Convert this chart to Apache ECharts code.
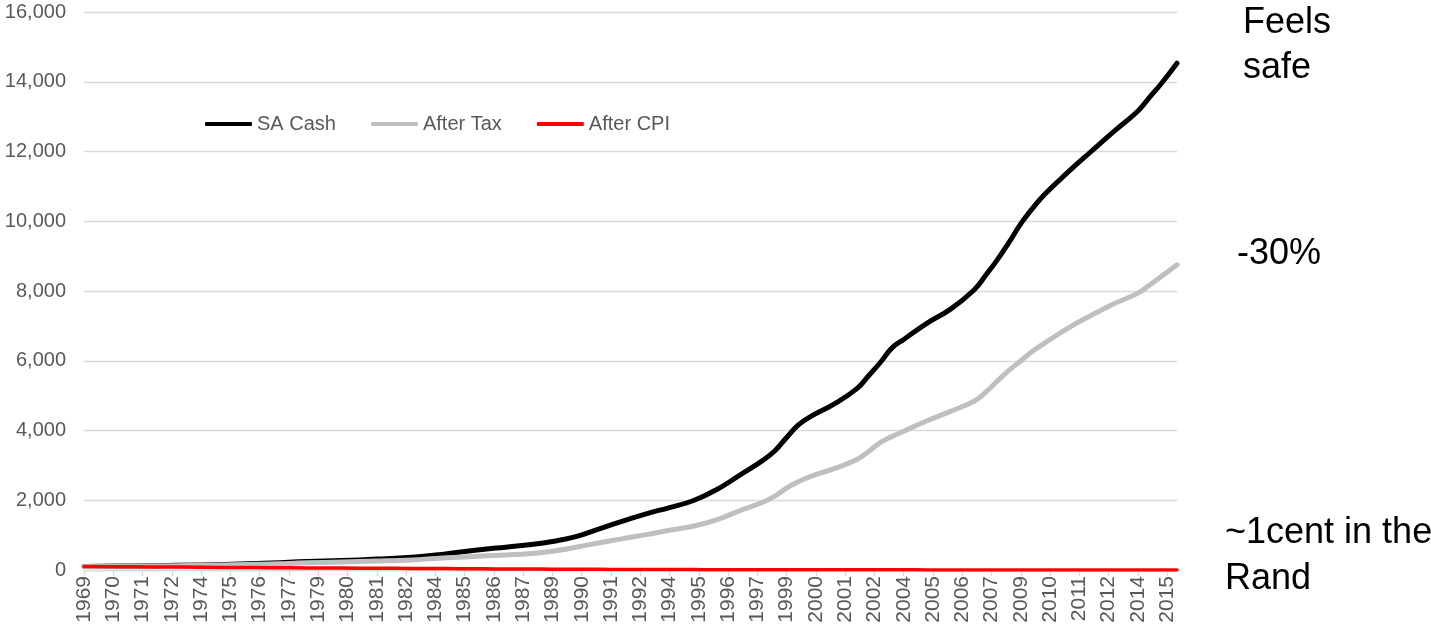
<!DOCTYPE html>
<html>
<head>
<meta charset="utf-8">
<script src="https://cdn.jsdelivr.net/npm/echarts@6/dist/echarts.min.js"></script>
<style>
  html, body { margin: 0; padding: 0; background: #ffffff; }
  #chart { width: 1431px; height: 631px; }
</style>
</head>
<body>
<div id="chart"></div>
<script>
// Sample months (year-month) at which each series is recorded
const months = [
  '1969-01', '1971-01', '1973-01', '1975-01', '1977-01', '1978-07', '1980-01', '1981-07',
  '1983-01', '1984-01', '1985-01', '1986-01', '1987-01', '1988-01', '1989-01', '1990-01',
  '1991-01', '1992-01', '1993-01', '1994-01', '1995-01', '1996-01', '1997-01', '1998-01',
  '1998-07', '1999-01', '1999-07', '2000-01', '2001-01', '2002-01', '2002-07', '2003-01',
  '2003-07', '2004-01', '2005-01', '2006-01', '2007-01', '2007-07', '2008-01', '2008-07',
  '2009-01', '2009-07', '2010-01', '2011-01', '2012-01', '2013-01', '2014-01', '2014-07',
  '2015-01', '2015-09'
];

// Growth of 100 invested in SA cash
const saCash = [
  100, 115, 135, 160, 200, 245, 272, 312,
  365, 428, 510, 590, 655, 722, 815, 955,
  1180, 1400, 1610, 1790, 1985, 2300, 2720, 3150,
  3420, 3800, 4160, 4390, 4750, 5200, 5570, 5950,
  6370, 6610, 7080, 7480, 8030, 8450, 8900, 9400,
  9930, 10370, 10760, 11400, 12000, 12590, 13160, 13560,
  13950, 14530
];

// Same investment after tax
const afterTax = [
  100, 110, 125, 145, 172, 205, 228, 255,
  290, 330, 365, 400, 432, 468, 540, 650,
  780, 900, 1015, 1140, 1255, 1440, 1700, 1950,
  2120, 2350, 2530, 2680, 2900, 3170, 3400, 3650,
  3830, 3980, 4280, 4550, 4840, 5100, 5420, 5730,
  6000, 6270, 6500, 6930, 7300, 7640, 7940, 8170,
  8420, 8750
];

// After tax, deflated by CPI
const afterCpi = [
  100, 92, 85, 75, 65, 60, 55, 50,
  45, 42, 38, 34, 30, 27, 24, 21,
  18, 16, 14, 12, 11, 10, 9, 8,
  7.5, 7, 6.5, 6, 5.5, 5, 4.7, 4.4,
  4.1, 3.8, 3.4, 3.0, 2.7, 2.5, 2.3, 2.1,
  1.9, 1.8, 1.7, 1.5, 1.4, 1.3, 1.2, 1.1,
  1.05, 1
];

// Category labels shown along the time axis (one every 15 months from Jan 1969)
const tickLabels = [
  '1969', '1970', '1971', '1972', '1974', '1975', '1976', '1977', '1979', '1980',
  '1981', '1982', '1984', '1985', '1986', '1987', '1989', '1990', '1991', '1992',
  '1994', '1995', '1996', '1997', '1999', '2000', '2001', '2002', '2004', '2005',
  '2006', '2007', '2009', '2010', '2011', '2012', '2014', '2015'
];

const seriesNames = ['SA Cash', 'After Tax', 'After CPI'];

const toYear = m => Number(m.slice(0, 4)) + (Number(m.slice(5, 7)) - 1) / 12;
const xs = months.map(toYear);
const startYear = xs[0];
const labelStep = 15 / 12;
const tickPositions = tickLabels.map((_, i) => startYear + i * labelStep);
const pairs = vals => xs.map((x, i) => [x, vals[i]]);

const FONT = "'Liberation Sans', Arial, Helvetica, sans-serif";
const chart = echarts.init(document.getElementById('chart'), null, { renderer: 'canvas' });

const lineSeries = (name, vals, color, width, z) => ({
  name,
  type: 'line',
  data: pairs(vals),
  showSymbol: false,
  symbol: 'none',
  smooth: 0.45,
  z,
  itemStyle: { color },
  lineStyle: { color, width, cap: 'round', join: 'round' },
  emphasis: { disabled: true }
});

chart.setOption({
  animation: false,
  backgroundColor: '#ffffff',
  textStyle: { fontFamily: FONT },
  grid: { left: 84, right: 254, top: 12, bottom: 61, containLabel: false },
  legend: {
    data: seriesNames,
    left: 200,
    top: 109,
    icon: 'roundRect',
    itemWidth: 47,
    itemHeight: 4,
    itemGap: 35,
    selectedMode: false,
    textStyle: { fontFamily: FONT, fontSize: 20, color: '#595959' }
  },
  xAxis: {
    type: 'value',
    min: startYear,
    max: xs[xs.length - 1],
    axisLine: { show: true, lineStyle: { color: '#D9D9D9', width: 1.3 } },
    axisTick: {
      show: true,
      customValues: tickPositions,
      length: 6,
      lineStyle: { color: '#D9D9D9', width: 1.3 }
    },
    axisLabel: {
      customValues: tickPositions,
      rotate: 90,
      margin: 6,
      fontFamily: FONT,
      fontSize: 21,
      color: '#595959',
      formatter: v => tickLabels[Math.round((v - startYear) / labelStep)] || ''
    },
    splitLine: { show: false }
  },
  yAxis: {
    type: 'value',
    min: 0,
    max: 16000,
    interval: 2000,
    axisLine: { show: false },
    axisTick: { show: false },
    axisLabel: { margin: 18, fontFamily: FONT, fontSize: 20, color: '#595959' },
    splitLine: { show: true, lineStyle: { color: '#D9D9D9', width: 1.3 } }
  },
  series: [
    lineSeries(seriesNames[0], saCash, '#000000', 5, 2),
    lineSeries(seriesNames[1], afterTax, '#BFBFBF', 5, 3),
    lineSeries(seriesNames[2], afterCpi, '#FF0000', 3.5, 4)
  ],
  graphic: [
    { type: 'text', left: 1243, top: 1, style: { text: 'Feels\nsafe', font: '36px ' + FONT, fill: '#000000', lineHeight: 45 } },
    { type: 'text', left: 1237, top: 232, style: { text: '-30%', font: '36px ' + FONT, fill: '#000000', lineHeight: 45 } },
    { type: 'text', left: 1225, top: 510, style: { text: '~1cent in the\nRand', font: '36px ' + FONT, fill: '#000000', lineHeight: 46 } }
  ]
});
</script>
</body>
</html>
